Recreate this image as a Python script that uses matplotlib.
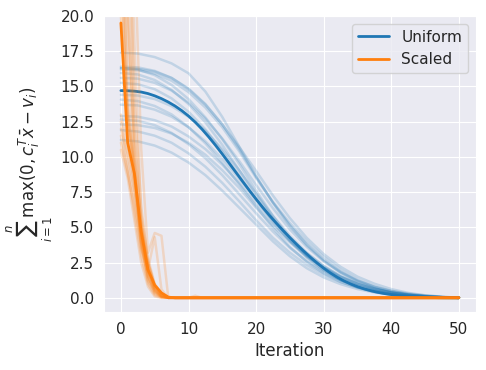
import matplotlib
matplotlib.use("Agg")
import matplotlib.pyplot as plt
import seaborn as sns

sns.set_style("darkgrid")
plt.rcParams['font.family'] = ['DejaVu Sans']

# ---------------- data ----------------
# Uniform: individual runs sampled every 2.5 iterations
uniform_iters = [0, 2.5, 5, 7.5, 10, 12.5, 15, 17.5, 20, 22.5, 25,
                 27.5, 30, 32.5, 35, 37.5, 40, 42.5, 45, 47.5, 50]
uniform_runs = [
    [17.4, 17.33, 17.08, 16.63, 15.93, 14.63, 12.83, 10.73, 8.63, 6.73, 5.08, 3.73, 2.63, 1.78, 1.13, 0.68, 0.38, 0.20, 0.10, 0.05, 0.0],
    [16.4, 16.35, 16.1, 15.6, 14.8, 13.7, 12.3, 10.7, 9.0, 7.25, 5.65, 4.25, 3.1, 2.2, 1.5, 1.0, 0.62, 0.35, 0.18, 0.08, 0.0],
    [16.3, 16.2, 15.8, 15.1, 14.1, 12.8, 11.25, 9.5, 7.6, 5.8, 4.25, 3.0, 2.05, 1.35, 0.85, 0.5, 0.28, 0.15, 0.07, 0.02, 0.0],
    [16.2, 16.15, 15.9, 15.4, 14.6, 13.5, 12.1, 10.4, 8.5, 6.8, 5.3, 4.0, 2.9, 2.0, 1.3, 0.8, 0.45, 0.23, 0.10, 0.03, 0.0],
    [15.95, 15.85, 15.45, 14.75, 13.75, 12.45, 10.85, 9.05, 7.3, 5.6, 4.1, 2.9, 1.95, 1.25, 0.75, 0.42, 0.22, 0.10, 0.04, 0.01, 0.0],
    [15.6, 15.55, 15.25, 14.7, 13.85, 12.7, 11.3, 9.7, 8.0, 6.35, 4.85, 3.6, 2.6, 1.8, 1.2, 0.77, 0.47, 0.27, 0.14, 0.05, 0.0],
    [15.25, 15.15, 14.8, 14.15, 13.2, 11.95, 10.4, 8.7, 7.0, 5.4, 4.0, 2.85, 1.95, 1.27, 0.79, 0.47, 0.27, 0.14, 0.06, 0.02, 0.0],
    [14.4, 14.35, 14.1, 13.6, 12.85, 11.85, 10.55, 9.05, 7.4, 5.8, 4.4, 3.2, 2.25, 1.52, 0.99, 0.62, 0.37, 0.21, 0.11, 0.04, 0.0],
    [14.06, 13.96, 13.61, 13.01, 12.11, 10.96, 9.56, 8.06, 6.5, 4.95, 3.6, 2.55, 1.73, 1.13, 0.71, 0.43, 0.24, 0.12, 0.05, 0.01, 0.0],
    [13.7, 13.65, 13.35, 12.85, 12.1, 11.1, 9.85, 8.45, 7.0, 5.55, 4.25, 3.15, 2.25, 1.55, 1.03, 0.66, 0.41, 0.24, 0.13, 0.05, 0.0],
    [12.9, 12.85, 12.6, 12.15, 11.45, 10.55, 9.45, 8.15, 6.7, 5.3, 4.05, 3.0, 2.15, 1.49, 0.99, 0.63, 0.38, 0.21, 0.11, 0.04, 0.0],
    [12.65, 12.55, 12.25, 11.7, 10.9, 9.9, 8.7, 7.35, 6.0, 4.7, 3.55, 2.6, 1.85, 1.28, 0.86, 0.56, 0.36, 0.22, 0.12, 0.05, 0.0],
    [12.3, 12.25, 12.05, 11.65, 11.0, 10.15, 9.05, 7.8, 6.4, 5.1, 3.95, 2.95, 2.13, 1.48, 0.98, 0.62, 0.37, 0.21, 0.11, 0.04, 0.0],
    [11.9, 11.8, 11.5, 11.0, 10.25, 9.3, 8.15, 6.85, 5.5, 4.25, 3.2, 2.33, 1.65, 1.13, 0.75, 0.48, 0.3, 0.18, 0.1, 0.04, 0.0],
    [11.2, 11.1, 10.8, 10.3, 9.6, 8.7, 7.6, 6.4, 5.2, 4.0, 2.95, 2.1, 1.45, 0.97, 0.62, 0.38, 0.23, 0.13, 0.07, 0.03, 0.0],
    [16.3, 16.25, 16.05, 15.6, 14.85, 13.75, 12.3, 10.55, 8.6, 6.75, 5.15, 3.8, 2.7, 1.85, 1.23, 0.8, 0.5, 0.3, 0.17, 0.07, 0.0],
]

# Uniform: mean curve at every iteration
uniform_mean_iters = list(range(0, 51))
uniform_mean = [14.70, 14.69, 14.66, 14.60, 14.49, 14.33, 14.13, 13.89, 13.61, 13.28,
                12.90, 12.46, 11.96, 11.41, 10.82, 10.20, 9.56, 8.91, 8.26, 7.62,
                7.00, 6.40, 5.83, 5.29, 4.77, 4.27, 3.79, 3.33, 2.89, 2.48,
                2.10, 1.76, 1.46, 1.20, 0.98, 0.79, 0.63, 0.50, 0.39, 0.30,
                0.23, 0.17, 0.12, 0.08, 0.05, 0.035, 0.02, 0.01, 0.005, 0.002,
                0.0]

# Scaled: individual runs at iterations 0..12 and 50
scaled_iters = list(range(0, 13)) + [50]
scaled_runs = [
    [30, 14, 9, 5, 2.2, 0.8, 0.2, 0, 0, 0, 0, 0, 0, 0],
    [25, 12, 8, 4, 1.5, 0.5, 0.1, 0, 0, 0, 0, 0, 0, 0],
    [12.5, 9.5, 7, 3.5, 1.2, 0.3, 0.05, 0, 0, 0, 0, 0, 0, 0],
    [11.5, 9, 6, 3, 1.0, 0.2, 0, 0, 0, 0, 0, 0, 0, 0],
    [10.5, 8.5, 5.5, 2.5, 0.8, 0.1, 0, 0, 0, 0, 0, 0, 0, 0],
    [12.0, 10.2, 7.5, 4.2, 1.8, 0.6, 0.1, 0, 0, 0, 0, 0, 0, 0],
    [45, 22, 10, 5.5, 2.5, 0.9, 0.3, 0.05, 0, 0, 0, 0, 0, 0],
    [60, 35, 18, 6, 2.8, 1.0, 0.3, 0, 0, 0, 0, 0, 0, 0],
    [50, 28, 12, 5, 2, 0.7, 0.2, 0, 0, 0, 0, 0, 0, 0],
    [70, 45, 25, 10.6, 3.2, 4.6, 4.4, 0.05, 0, 0, 0, 0, 0, 0],
    [22, 13, 9.5, 3.5, 2.0, 4.3, 0.6, 0, 0, 0, 0, 0, 0, 0],
    [13, 10.8, 8.0, 4.8, 2.0, 0.7, 0.15, 0, 0, 0, 0, 0.15, 0, 0],
    [11, 8.8, 6.5, 3.8, 1.5, 0.4, 0.05, 0, 0, 0, 0, 0, 0, 0],
    [35, 18, 9, 4.2, 1.6, 0.5, 0.1, 0, 0, 0, 0, 0, 0, 0],
    [40, 20, 11, 5.2, 2.4, 0.9, 0.25, 0.02, 0, 0, 0, 0, 0, 0],
    [28, 13.5, 8.5, 4.6, 1.9, 0.6, 0.12, 0, 0, 0, 0, 0, 0, 0],
    [55, 30, 14, 6.5, 2.6, 0.8, 0.15, 0, 0, 0, 0, 0, 0, 0],
    [20, 12.5, 8.8, 3.9, 1.3, 0.4, 0.08, 0, 0, 0, 0, 0, 0, 0],
]

scaled_mean_iters = list(range(0, 13)) + [50]
scaled_mean = [19.5, 11.0, 8.8, 4.7, 2.0, 0.9, 0.35, 0.05, 0, 0, 0, 0, 0, 0]

labels = ["Uniform", "Scaled"]
colors = ["#1f77b4", "#ff7f0e"]

# ---------------- plot ----------------
fig = plt.figure(figsize=(4.86, 3.70), dpi=100)
ax = fig.add_axes([0.214, 0.157, 0.765, 0.8])

for run in uniform_runs:
    ax.plot(uniform_iters, run, color=colors[0], alpha=0.2, lw=1.8)
ax.plot(uniform_mean_iters, uniform_mean, color=colors[0], lw=2, label=labels[0])

for run in scaled_runs:
    ax.plot(scaled_iters, run, color=colors[1], alpha=0.2, lw=1.8)
ax.plot(scaled_mean_iters, scaled_mean, color=colors[1], lw=2, label=labels[1])

ax.set_xlim(-2.5, 52.5)
ax.set_ylim(-1, 20)
ax.set_xlabel("Iteration", fontsize=12)
ax.set_ylabel(r"$\sum_{i=1}^{n}\max(0, c_i^T\bar{x} - v_i)$", fontsize=12)
ax.tick_params(labelsize=11)
ax.legend(loc="upper right", fontsize=11)

fig.savefig("out.png", dpi=100)
